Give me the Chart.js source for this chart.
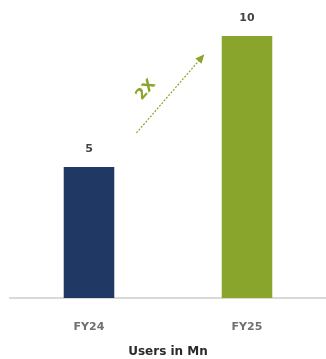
<!DOCTYPE html>
<html>
<head>
<meta charset="utf-8">
<script src="https://cdn.jsdelivr.net/npm/chart.js@4/dist/chart.umd.min.js"></script>
<style>
  html, body { margin: 0; padding: 0; background: #ffffff; }
  #wrap { width: 326px; height: 359px; }
</style>
</head>
<body>
<div id="wrap"><canvas id="c" width="326" height="359"></canvas></div>
<script>
// Users (in millions) per fiscal year
const categories = ['FY24', 'FY25'];
const users = [5, 10];
const growthLabel = '2X';
const axisTitle = 'Users in Mn';

const barColors = ['#1f3864', '#8aa52c'];
const FONT = '"DejaVu Sans", sans-serif';

// Writes each bar's value just above it
const valueLabels = {
  id: 'valueLabels',
  afterDatasetsDraw(chart) {
    const ctx = chart.ctx;
    const meta = chart.getDatasetMeta(0);
    ctx.save();
    ctx.font = 'bold 11px ' + FONT;
    ctx.fillStyle = '#444444';
    ctx.textAlign = 'center';
    ctx.textBaseline = 'middle';
    meta.data.forEach((bar, i) => {
      ctx.fillText(String(users[i]), bar.x, bar.y - 18);
    });
    ctx.restore();
  }
};

// Dotted growth arrow between the two bars, with its multiplier label
const growthArrow = {
  id: 'growthArrow',
  afterDatasetsDraw(chart, args, opts) {
    const { ctx, scales: { x, y } } = chart;
    const x1 = x.getPixelForValue(opts.from[0]), y1 = y.getPixelForValue(opts.from[1]);
    const x2 = x.getPixelForValue(opts.to[0]), y2 = y.getPixelForValue(opts.to[1]);
    const ang = Math.atan2(y2 - y1, x2 - x1);
    ctx.save();
    ctx.strokeStyle = opts.color;
    ctx.fillStyle = opts.color;
    ctx.lineWidth = 1.2;
    ctx.setLineDash([2, 1.5]);
    ctx.beginPath();
    ctx.moveTo(x1, y1);
    ctx.lineTo(x2 - 6 * Math.cos(ang), y2 - 6 * Math.sin(ang));
    ctx.stroke();
    ctx.setLineDash([]);
    ctx.beginPath();
    ctx.moveTo(x2, y2);
    ctx.lineTo(x2 - 9 * Math.cos(ang) + 4 * Math.sin(ang), y2 - 9 * Math.sin(ang) - 4 * Math.cos(ang));
    ctx.lineTo(x2 - 9 * Math.cos(ang) - 4 * Math.sin(ang), y2 - 9 * Math.sin(ang) + 4 * Math.cos(ang));
    ctx.closePath();
    ctx.fill();
    const tx = x.getPixelForValue(opts.labelAt[0]), ty = y.getPixelForValue(opts.labelAt[1]);
    ctx.translate(tx, ty);
    ctx.rotate(ang);
    ctx.font = 'bold 15px ' + FONT;
    ctx.textAlign = 'center';
    ctx.textBaseline = 'middle';
    ctx.fillText(growthLabel, 0, 0);
    ctx.restore();
  }
};

new Chart(document.getElementById('c'), {
  type: 'bar',
  data: {
    labels: categories,
    datasets: [{
      data: users,
      backgroundColor: barColors,
      borderWidth: 0,
      categoryPercentage: 1,
      barPercentage: 0.32
    }]
  },
  options: {
    responsive: false,
    animation: false,
    layout: { padding: { top: 36, left: 10, right: 0, bottom: 0 } },
    plugins: {
      legend: { display: false },
      tooltip: { enabled: false },
      growthArrow: { from: [0.3, 6.3], to: [0.73, 9.3], labelAt: [0.36, 7.94], color: '#8aa52c' }
    },
    scales: {
      y: { display: false, min: 0, max: 10 },
      x: {
        grid: { display: false, drawTicks: false },
        border: { display: true, color: '#d9d9d9', width: 2 },
        ticks: {
          padding: 22.4,
          color: '#707070',
          font: { family: FONT, size: 11, weight: 'bold' }
        },
        title: {
          display: true,
          text: axisTitle,
          color: '#2a2a2a',
          font: { family: FONT, size: 12, weight: 'bold' },
          padding: { top: -11.4, bottom: 0 }
        }
      }
    }
  },
  plugins: [valueLabels, growthArrow]
});
</script>
</body>
</html>
